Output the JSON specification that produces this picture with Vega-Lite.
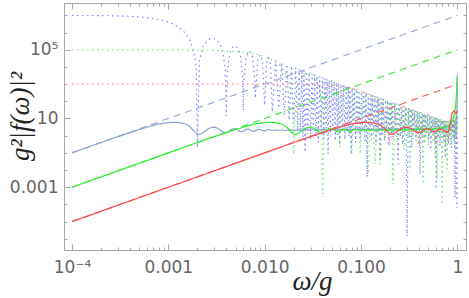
{
"$schema":"https://vega.github.io/schema/vega-lite/v6.json",
"width":402,"height":247,
"autosize":{"type":"none"},
"padding":{"left":64,"top":3,"right":3,"bottom":48},
"background":"white",
"config":{"view":{"stroke":"#a8a8a8","strokeWidth":1},
"axis":{"domainColor":"#a8a8a8","tickColor":"#a8a8a8","labelColor":"#666666","labelFont":"DejaVu Sans","labelFontSize":17,"grid":false,"titleFont":"Liberation Serif","titleFontStyle":"italic","titleFontWeight":"normal","titleColor":"#222222","titleFontSize":27,"labelOverlap":false,"labelFlush":false}},
"data":{"values":[
{"w":0.0001,"v":9.9e6,"s":"f7"},{"w":0.0002,"v":9.7e6,"s":"f7"},{"w":0.0003,"v":9.3e6,"s":"f7"},{"w":0.0004,"v":8.8e6,"s":"f7"},{"w":0.0005,"v":8.1e6,"s":"f7"},{"w":0.0006,"v":7.4e6,"s":"f7"},{"w":0.0007,"v":6.6e6,"s":"f7"},{"w":0.0008,"v":5.7e6,"s":"f7"},{"w":0.0009,"v":4.9e6,"s":"f7"},{"w":0.001,"v":4.05e6,"s":"f7"},{"w":0.0011,"v":3.3e6,"s":"f7"},{"w":0.0012,"v":2.55e6,"s":"f7"},{"w":0.0013,"v":1.9e6,"s":"f7"},{"w":0.0014,"v":1.35e6,"s":"f7"},{"w":0.0015,"v":9e5,"s":"f7"},{"w":0.0016,"v":5.5e5,"s":"f7"},{"w":0.0017,"v":2.9e5,"s":"f7"},{"w":0.0018,"v":1.2e5,"s":"f7"},{"w":0.0019,"v":2.7e4,"s":"f7"},{"w":0.00195,"v":6600,"s":"f7"},{"w":0.002,"v":0.2,"s":"f7"},
{"w":0.0021,"v":2.25e4,"s":"f7"},{"w":0.0023,"v":1.58e5,"s":"f7"},{"w":0.0025,"v":3.2e5,"s":"f7"},{"w":0.0027,"v":4.4e5,"s":"f7"},{"w":0.0029,"v":4.7e5,"s":"f7"},{"w":0.0031,"v":4.1e5,"s":"f7"},{"w":0.0033,"v":2.95e5,"s":"f7"},{"w":0.0035,"v":1.65e5,"s":"f7"},{"w":0.0037,"v":6.1e4,"s":"f7"},{"w":0.0039,"v":6500,"s":"f7"},{"w":0.004,"v":14,"s":"f7"},
{"w":0.0041,"v":5900,"s":"f7"},{"w":0.0043,"v":4.5e4,"s":"f7"},{"w":0.0045,"v":1e5,"s":"f7"},{"w":0.0047,"v":1.46e5,"s":"f7"},{"w":0.005,"v":1.62e5,"s":"f7"},{"w":0.0053,"v":1.15e5,"s":"f7"},{"w":0.0056,"v":4.5e4,"s":"f7"},{"w":0.0059,"v":2800,"s":"f7"},{"w":0.006,"v":30,"s":"f7"},
{"w":0.0061,"v":2650,"s":"f7"},{"w":0.0065,"v":4.8e4,"s":"f7"},{"w":0.007,"v":8.2e4,"s":"f7"},{"w":0.0075,"v":3.6e4,"s":"f7"},{"w":0.0079,"v":1600,"s":"f7"},{"w":0.008,"v":150,"s":"f7"},
{"w":0.0085,"v":2.8e4,"s":"f7"},{"w":0.009,"v":5e4,"s":"f7"},{"w":0.0095,"v":2.2e4,"s":"f7"},{"w":0.01,"v":60,"s":"f7"},{"w":0.0105,"v":1.84e4,"s":"f7"},{"w":0.011,"v":3.35e4,"s":"f7"},{"w":0.0115,"v":1.5e4,"s":"f7"},{"w":0.012,"v":25,"s":"f7"},{"w":0.013,"v":2.4e4,"s":"f7"},{"w":0.014,"v":40,"s":"f7"},{"w":0.015,"v":1.8e4,"s":"f7"},{"w":0.016,"v":15,"s":"f7"},{"w":0.017,"v":1.4e4,"s":"f7"},{"w":0.018,"v":8,"s":"f7"},{"w":0.019,"v":1.12e4,"s":"f7"},{"w":0.02,"v":5,"s":"f7"},
{"w":0.021,"v":9000,"s":"f7"},{"w":0.022,"v":2,"s":"f7"},{"w":0.0228,"v":7500,"s":"f7"},{"w":0.0235,"v":1.5,"s":"f7"},{"w":0.0243,"v":6800,"s":"f7"},{"w":0.025,"v":0.8,"s":"f7"},{"w":0.0256,"v":6000,"s":"f7"},{"w":0.0263,"v":0.11,"s":"f7"},{"w":0.0272,"v":5300,"s":"f7"},{"w":0.028,"v":1.2,"s":"f7"},{"w":0.029,"v":4700,"s":"f7"},{"w":0.03,"v":0.6,"s":"f7"},{"w":0.031,"v":4100,"s":"f7"},{"w":0.032,"v":2.5,"s":"f7"},{"w":0.033,"v":3600,"s":"f7"},{"w":0.034,"v":0.9,"s":"f7"},{"w":0.035,"v":3200,"s":"f7"},{"w":0.036,"v":0.4,"s":"f7"},{"w":0.0372,"v":2850,"s":"f7"},{"w":0.0385,"v":1.8,"s":"f7"},{"w":0.0398,"v":2500,"s":"f7"},{"w":0.041,"v":0.7,"s":"f7"},{"w":0.0422,"v":2200,"s":"f7"},{"w":0.0435,"v":1.5,"s":"f7"},{"w":0.0445,"v":2000,"s":"f7"},{"w":0.0455,"v":0.084,"s":"f7"},{"w":0.0468,"v":1800,"s":"f7"},{"w":0.048,"v":0.9,"s":"f7"},{"w":0.0495,"v":1600,"s":"f7"},{"w":0.051,"v":2.2,"s":"f7"},{"w":0.0525,"v":1430,"s":"f7"},{"w":0.054,"v":0.5,"s":"f7"},{"w":0.0555,"v":1280,"s":"f7"},{"w":0.057,"v":1.1,"s":"f7"},{"w":0.0585,"v":1150,"s":"f7"},{"w":0.06,"v":0.3,"s":"f7"},{"w":0.062,"v":1020,"s":"f7"},{"w":0.064,"v":1.6,"s":"f7"},{"w":0.066,"v":900,"s":"f7"},{"w":0.068,"v":0.6,"s":"f7"},{"w":0.07,"v":800,"s":"f7"},{"w":0.072,"v":2,"s":"f7"},{"w":0.0737,"v":730,"s":"f7"},{"w":0.0755,"v":0.9,"s":"f7"},{"w":0.077,"v":660,"s":"f7"},{"w":0.0789,"v":0.084,"s":"f7"},{"w":0.081,"v":600,"s":"f7"},{"w":0.083,"v":1.2,"s":"f7"},{"w":0.0855,"v":540,"s":"f7"},{"w":0.088,"v":0.4,"s":"f7"},{"w":0.0905,"v":480,"s":"f7"},{"w":0.093,"v":1.5,"s":"f7"},{"w":0.0955,"v":430,"s":"f7"},{"w":0.098,"v":0.7,"s":"f7"},{"w":0.101,"v":385,"s":"f7"},{"w":0.104,"v":2,"s":"f7"},{"w":0.107,"v":345,"s":"f7"},{"w":0.11,"v":0.5,"s":"f7"},{"w":0.113,"v":308,"s":"f7"},{"w":0.1157,"v":0.0039,"s":"f7"},{"w":0.119,"v":278,"s":"f7"},{"w":0.122,"v":1.2,"s":"f7"},{"w":0.1255,"v":250,"s":"f7"},{"w":0.129,"v":0.6,"s":"f7"},{"w":0.1325,"v":224,"s":"f7"},{"w":0.136,"v":1.8,"s":"f7"},{"w":0.1395,"v":202,"s":"f7"},{"w":0.143,"v":0.35,"s":"f7"},{"w":0.1465,"v":183,"s":"f7"},{"w":0.15,"v":1.3,"s":"f7"},{"w":0.154,"v":166,"s":"f7"},{"w":0.158,"v":0.043,"s":"f7"},{"w":0.162,"v":150,"s":"f7"},{"w":0.166,"v":1,"s":"f7"},{"w":0.1705,"v":135,"s":"f7"},{"w":0.175,"v":0.5,"s":"f7"},{"w":0.18,"v":121,"s":"f7"},{"w":0.185,"v":2,"s":"f7"},{"w":0.19,"v":109,"s":"f7"},{"w":0.195,"v":0.25,"s":"f7"},{"w":0.2,"v":98,"s":"f7"},{"w":0.205,"v":1.4,"s":"f7"},{"w":0.2105,"v":88,"s":"f7"},{"w":0.216,"v":0.6,"s":"f7"},{"w":0.222,"v":80,"s":"f7"},{"w":0.228,"v":1.8,"s":"f7"},{"w":0.2355,"v":71,"s":"f7"},{"w":0.243,"v":0.022,"s":"f7"},{"w":0.2495,"v":63,"s":"f7"},{"w":0.256,"v":0.9,"s":"f7"},{"w":0.263,"v":57,"s":"f7"},{"w":0.27,"v":0.3,"s":"f7"},{"w":0.2775,"v":51,"s":"f7"},{"w":0.285,"v":1.5,"s":"f7"},{"w":0.293,"v":46,"s":"f7"},{"w":0.301,"v":1.4e-6,"s":"f7"},{"w":0.3095,"v":41,"s":"f7"},{"w":0.318,"v":0.8,"s":"f7"},{"w":0.3265,"v":37,"s":"f7"},{"w":0.335,"v":0.2,"s":"f7"},{"w":0.344,"v":33,"s":"f7"},{"w":0.353,"v":1.6,"s":"f7"},{"w":0.3625,"v":30,"s":"f7"},{"w":0.372,"v":0.5,"s":"f7"},{"w":0.382,"v":27,"s":"f7"},{"w":0.392,"v":1.1,"s":"f7"},{"w":0.4015,"v":24.5,"s":"f7"},{"w":0.411,"v":0.0058,"s":"f7"},{"w":0.422,"v":22,"s":"f7"},{"w":0.433,"v":0.9,"s":"f7"},{"w":0.4445,"v":20,"s":"f7"},{"w":0.456,"v":0.35,"s":"f7"},{"w":0.468,"v":18,"s":"f7"},{"w":0.48,"v":1.4,"s":"f7"},{"w":0.4925,"v":16.3,"s":"f7"},{"w":0.505,"v":0.6,"s":"f7"},{"w":0.5175,"v":14.8,"s":"f7"},{"w":0.53,"v":0.15,"s":"f7"},{"w":0.545,"v":13.3,"s":"f7"},{"w":0.56,"v":1.2,"s":"f7"},{"w":0.575,"v":12,"s":"f7"},{"w":0.59,"v":0.4,"s":"f7"},{"w":0.5965,"v":11.2,"s":"f7"},{"w":0.603,"v":0.00078,"s":"f7"},{"w":0.616,"v":10.5,"s":"f7"},{"w":0.63,"v":0.8,"s":"f7"},{"w":0.645,"v":9.6,"s":"f7"},{"w":0.66,"v":0.25,"s":"f7"},{"w":0.675,"v":8.8,"s":"f7"},{"w":0.69,"v":1.3,"s":"f7"},{"w":0.705,"v":8.2,"s":"f7"},{"w":0.72,"v":0.5,"s":"f7"},{"w":0.735,"v":7.6,"s":"f7"},{"w":0.75,"v":0.05,"s":"f7"},{"w":0.765,"v":7.2,"s":"f7"},{"w":0.78,"v":0.9,"s":"f7"},{"w":0.795,"v":6.8,"s":"f7"},{"w":0.81,"v":0.3,"s":"f7"},{"w":0.825,"v":6.5,"s":"f7"},{"w":0.84,"v":1.5,"s":"f7"},{"w":0.855,"v":6.5,"s":"f7"},{"w":0.87,"v":0.2,"s":"f7"},{"w":0.885,"v":7,"s":"f7"},{"w":0.9,"v":1,"s":"f7"},{"w":0.912,"v":8,"s":"f7"},{"w":0.925,"v":0.5,"s":"f7"},{"w":0.936,"v":9,"s":"f7"},{"w":0.948,"v":0.00026,"s":"f7"},{"w":0.96,"v":10,"s":"f7"},{"w":0.97,"v":0.8,"s":"f7"},{"w":0.98,"v":12,"s":"f7"},{"w":0.99,"v":0.00006,"s":"f7"},{"w":1.0,"v":14,"s":"f7"},
{"w":0.0001,"v":1e5,"s":"f5"},{"w":0.002,"v":96800,"s":"f5"},{"w":0.004,"v":87600,"s":"f5"},{"w":0.006,"v":73800,"s":"f5"},{"w":0.008,"v":57300,"s":"f5"},{"w":0.01,"v":40500,"s":"f5"},{"w":0.012,"v":25500,"s":"f5"},{"w":0.014,"v":13500,"s":"f5"},{"w":0.016,"v":5470,"s":"f5"},{"w":0.017,"v":2890,"s":"f5"},{"w":0.018,"v":1190,"s":"f5"},{"w":0.019,"v":274,"s":"f5"},{"w":0.0195,"v":66,"s":"f5"},{"w":0.02,"v":0.084,"s":"f5"},{"w":0.021,"v":225,"s":"f5"},{"w":0.022,"v":800,"s":"f5"},{"w":0.024,"v":2430,"s":"f5"},{"w":0.026,"v":3920,"s":"f5"},{"w":0.0285,"v":4710,"s":"f5"},{"w":0.031,"v":4120,"s":"f5"},{"w":0.034,"v":2300,"s":"f5"},{"w":0.037,"v":610,"s":"f5"},{"w":0.039,"v":65,"s":"f5"},{"w":0.04,"v":0.0004,"s":"f5"},{"w":0.042,"v":219,"s":"f5"},{"w":0.045,"v":1000,"s":"f5"},{"w":0.05,"v":1620,"s":"f5"},{"w":0.055,"v":670,"s":"f5"},{"w":0.058,"v":115,"s":"f5"},{"w":0.06,"v":0.21,"s":"f5"},{"w":0.065,"v":480,"s":"f5"},{"w":0.07,"v":827,"s":"f5"},{"w":0.075,"v":360,"s":"f5"},{"w":0.08,"v":0.084,"s":"f5"},{"w":0.085,"v":280,"s":"f5"},{"w":0.09,"v":500,"s":"f5"},{"w":0.095,"v":220,"s":"f5"},{"w":0.098,"v":0.084,"s":"f5"},{"w":0.104,"v":300,"s":"f5"},{"w":0.11,"v":335,"s":"f5"},{"w":0.1185,"v":0.006,"s":"f5"},{"w":0.129,"v":243,"s":"f5"},{"w":0.14,"v":0.022,"s":"f5"},{"w":0.1495,"v":181,"s":"f5"},{"w":0.158,"v":0.022,"s":"f5"},{"w":0.168,"v":143,"s":"f5"},{"w":0.178,"v":0.6,"s":"f5"},{"w":0.188,"v":115,"s":"f5"},{"w":0.198,"v":1.2,"s":"f5"},{"w":0.207,"v":94,"s":"f5"},{"w":0.215,"v":0.0015,"s":"f5"},{"w":0.226,"v":79,"s":"f5"},{"w":0.237,"v":0.4,"s":"f5"},{"w":0.247,"v":66,"s":"f5"},{"w":0.258,"v":1.5,"s":"f5"},{"w":0.268,"v":56,"s":"f5"},{"w":0.28,"v":0.15,"s":"f5"},{"w":0.292,"v":47,"s":"f5"},{"w":0.305,"v":0.8,"s":"f5"},{"w":0.315,"v":40,"s":"f5"},{"w":0.324,"v":0.011,"s":"f5"},{"w":0.335,"v":36,"s":"f5"},{"w":0.347,"v":0.6,"s":"f5"},{"w":0.36,"v":31,"s":"f5"},{"w":0.372,"v":2,"s":"f5"},{"w":0.385,"v":27,"s":"f5"},{"w":0.398,"v":0.3,"s":"f5"},{"w":0.41,"v":24,"s":"f5"},{"w":0.425,"v":1,"s":"f5"},{"w":0.433,"v":21.5,"s":"f5"},{"w":0.441,"v":0.0015,"s":"f5"},{"w":0.455,"v":19.5,"s":"f5"},{"w":0.47,"v":0.7,"s":"f5"},{"w":0.485,"v":17,"s":"f5"},{"w":0.5,"v":0.25,"s":"f5"},{"w":0.515,"v":15.2,"s":"f5"},{"w":0.53,"v":1.2,"s":"f5"},{"w":0.545,"v":13.6,"s":"f5"},{"w":0.56,"v":0.4,"s":"f5"},{"w":0.575,"v":12.2,"s":"f5"},{"w":0.59,"v":0.05,"s":"f5"},{"w":0.605,"v":11,"s":"f5"},{"w":0.617,"v":0.003,"s":"f5"},{"w":0.63,"v":10.2,"s":"f5"},{"w":0.645,"v":0.9,"s":"f5"},{"w":0.66,"v":9.3,"s":"f5"},{"w":0.675,"v":0.6,"s":"f5"},{"w":0.685,"v":8.6,"s":"f5"},{"w":0.695,"v":0.0001,"s":"f5"},{"w":0.71,"v":8,"s":"f5"},{"w":0.725,"v":0.9,"s":"f5"},{"w":0.74,"v":7.6,"s":"f5"},{"w":0.755,"v":0.3,"s":"f5"},{"w":0.77,"v":7.4,"s":"f5"},{"w":0.783,"v":0.011,"s":"f5"},{"w":0.8,"v":7.5,"s":"f5"},{"w":0.815,"v":0.7,"s":"f5"},{"w":0.83,"v":8,"s":"f5"},{"w":0.845,"v":0.3,"s":"f5"},{"w":0.86,"v":9,"s":"f5"},{"w":0.875,"v":1.5,"s":"f5"},{"w":0.89,"v":10,"s":"f5"},{"w":0.905,"v":0.5,"s":"f5"},{"w":0.92,"v":13,"s":"f5"},{"w":0.935,"v":0.2,"s":"f5"},{"w":0.95,"v":18,"s":"f5"},{"w":0.965,"v":1,"s":"f5"},{"w":0.98,"v":30,"s":"f5"},{"w":0.99,"v":2,"s":"f5"},{"w":1.0,"v":60,"s":"f5"},
{"w":0.0001,"v":1000,"s":"f3"},{"w":0.01,"v":992,"s":"f3"},{"w":0.02,"v":968,"s":"f3"},{"w":0.03,"v":929,"s":"f3"},{"w":0.04,"v":876,"s":"f3"},{"w":0.05,"v":810,"s":"f3"},{"w":0.06,"v":738,"s":"f3"},{"w":0.07,"v":656,"s":"f3"},{"w":0.08,"v":573,"s":"f3"},{"w":0.09,"v":488,"s":"f3"},{"w":0.1,"v":405,"s":"f3"},{"w":0.11,"v":327,"s":"f3"},{"w":0.12,"v":255,"s":"f3"},{"w":0.13,"v":190,"s":"f3"},{"w":0.14,"v":135,"s":"f3"},{"w":0.15,"v":90,"s":"f3"},{"w":0.16,"v":55,"s":"f3"},{"w":0.17,"v":29,"s":"f3"},{"w":0.18,"v":12,"s":"f3"},{"w":0.19,"v":2.7,"s":"f3"},{"w":0.195,"v":0.66,"s":"f3"},{"w":0.2,"v":0.5,"s":"f3"},{"w":0.21,"v":2.25,"s":"f3"},{"w":0.22,"v":8,"s":"f3"},{"w":0.24,"v":24,"s":"f3"},{"w":0.26,"v":39,"s":"f3"},{"w":0.285,"v":47,"s":"f3"},{"w":0.31,"v":41,"s":"f3"},{"w":0.34,"v":23,"s":"f3"},{"w":0.37,"v":6.1,"s":"f3"},{"w":0.39,"v":0.65,"s":"f3"},{"w":0.4,"v":0.2,"s":"f3"},{"w":0.42,"v":2.2,"s":"f3"},{"w":0.45,"v":10,"s":"f3"},{"w":0.5,"v":16,"s":"f3"},{"w":0.55,"v":6.7,"s":"f3"},{"w":0.58,"v":1.15,"s":"f3"},{"w":0.6,"v":0.3,"s":"f3"},{"w":0.65,"v":4.8,"s":"f3"},{"w":0.7,"v":8.3,"s":"f3"},{"w":0.75,"v":3.6,"s":"f3"},{"w":0.78,"v":0.8,"s":"f3"},{"w":0.8,"v":0.4,"s":"f3"},{"w":0.85,"v":2.8,"s":"f3"},{"w":0.9,"v":5,"s":"f3"},{"w":0.95,"v":2.2,"s":"f3"},{"w":1.0,"v":0.4,"s":"f3"},
{"w":0.0001,"v":0.1,"s":"a7"},{"w":1.0,"v":1e7,"s":"a7"},
{"w":0.0001,"v":0.001,"s":"a5"},{"w":1.0,"v":1e5,"s":"a5"},
{"w":0.0001,"v":0.00001,"s":"a3"},{"w":1.0,"v":1000,"s":"a3"},
{"w":0.0001,"v":0.1,"s":"s7"},{"w":0.00015,"v":0.225,"s":"s7"},{"w":0.0002,"v":0.4,"s":"s7"},{"w":0.0003,"v":0.88,"s":"s7"},{"w":0.0004,"v":1.5,"s":"s7"},{"w":0.0005,"v":2.3,"s":"s7"},{"w":0.0006,"v":3.1,"s":"s7"},{"w":0.0007,"v":4.0,"s":"s7"},{"w":0.0008,"v":4.8,"s":"s7"},{"w":0.0009,"v":5.4,"s":"s7"},{"w":0.001,"v":5.8,"s":"s7"},{"w":0.0011,"v":6.0,"s":"s7"},{"w":0.0012,"v":6.0,"s":"s7"},{"w":0.0013,"v":5.8,"s":"s7"},{"w":0.0014,"v":5.3,"s":"s7"},{"w":0.0015,"v":4.8,"s":"s7"},{"w":0.0016,"v":4.0,"s":"s7"},{"w":0.0017,"v":3.1,"s":"s7"},{"w":0.0018,"v":2.2,"s":"s7"},{"w":0.0019,"v":1.6,"s":"s7"},{"w":0.002,"v":1.25,"s":"s7"},{"w":0.0021,"v":1.2,"s":"s7"},{"w":0.0022,"v":1.3,"s":"s7"},{"w":0.0024,"v":1.8,"s":"s7"},{"w":0.0026,"v":2.5,"s":"s7"},{"w":0.0028,"v":3.0,"s":"s7"},{"w":0.003,"v":3.1,"s":"s7"},{"w":0.0032,"v":2.8,"s":"s7"},{"w":0.0034,"v":2.3,"s":"s7"},{"w":0.0036,"v":1.8,"s":"s7"},{"w":0.0038,"v":1.5,"s":"s7"},{"w":0.004,"v":1.5,"s":"s7"},{"w":0.0042,"v":1.7,"s":"s7"},{"w":0.0045,"v":2.3,"s":"s7"},{"w":0.0048,"v":2.6,"s":"s7"},{"w":0.0051,"v":2.4,"s":"s7"},{"w":0.0054,"v":1.9,"s":"s7"},{"w":0.0057,"v":1.7,"s":"s7"},{"w":0.006,"v":1.8,"s":"s7"},{"w":0.0064,"v":2.3,"s":"s7"},{"w":0.0068,"v":2.4,"s":"s7"},{"w":0.0072,"v":2.0,"s":"s7"},{"w":0.0076,"v":1.8,"s":"s7"},{"w":0.008,"v":1.9,"s":"s7"},{"w":0.0085,"v":2.3,"s":"s7"},{"w":0.009,"v":2.3,"s":"s7"},{"w":0.0095,"v":2.0,"s":"s7"},{"w":0.01,"v":1.9,"s":"s7"},{"w":0.011,"v":2.3,"s":"s7"},{"w":0.012,"v":2.0,"s":"s7"},{"w":0.013,"v":2.2,"s":"s7"},{"w":0.014,"v":2.0,"s":"s7"},{"w":0.015,"v":2.2,"s":"s7"},{"w":0.016,"v":2.0,"s":"s7"},{"w":0.018,"v":2.15,"s":"s7"},{"w":0.02,"v":2.05,"s":"s7"},{"w":0.025,"v":2.15,"s":"s7"},{"w":0.03,"v":2.15,"s":"s7"},{"w":0.05,"v":2.2,"s":"s7"},{"w":0.1,"v":2.3,"s":"s7"},{"w":0.2,"v":2.4,"s":"s7"},{"w":0.4,"v":2.5,"s":"s7"},{"w":0.6,"v":2.6,"s":"s7"},{"w":0.8,"v":2.8,"s":"s7"},{"w":0.9,"v":3.2,"s":"s7"},{"w":0.95,"v":4,"s":"s7"},{"w":0.97,"v":6,"s":"s7"},{"w":0.98,"v":10,"s":"s7"},{"w":0.99,"v":25,"s":"s7"},{"w":0.995,"v":80,"s":"s7"},{"w":0.998,"v":400,"s":"s7"},{"w":1.0,"v":3500,"s":"s7"},
{"w":0.0001,"v":0.001,"s":"s5"},{"w":0.001,"v":0.1,"s":"s5"},{"w":0.0015,"v":0.225,"s":"s5"},{"w":0.002,"v":0.4,"s":"s5"},{"w":0.003,"v":0.88,"s":"s5"},{"w":0.004,"v":1.5,"s":"s5"},{"w":0.005,"v":2.3,"s":"s5"},{"w":0.006,"v":3.1,"s":"s5"},{"w":0.007,"v":4.0,"s":"s5"},{"w":0.008,"v":4.8,"s":"s5"},{"w":0.009,"v":5.4,"s":"s5"},{"w":0.01,"v":5.8,"s":"s5"},{"w":0.011,"v":6.0,"s":"s5"},{"w":0.012,"v":6.0,"s":"s5"},{"w":0.013,"v":5.8,"s":"s5"},{"w":0.014,"v":5.3,"s":"s5"},{"w":0.015,"v":4.8,"s":"s5"},{"w":0.016,"v":4.0,"s":"s5"},{"w":0.017,"v":3.1,"s":"s5"},{"w":0.018,"v":2.2,"s":"s5"},{"w":0.019,"v":1.6,"s":"s5"},{"w":0.02,"v":1.25,"s":"s5"},{"w":0.021,"v":1.2,"s":"s5"},{"w":0.022,"v":1.3,"s":"s5"},{"w":0.024,"v":1.8,"s":"s5"},{"w":0.026,"v":2.5,"s":"s5"},{"w":0.028,"v":3.0,"s":"s5"},{"w":0.03,"v":3.1,"s":"s5"},{"w":0.032,"v":2.8,"s":"s5"},{"w":0.034,"v":2.3,"s":"s5"},{"w":0.036,"v":1.8,"s":"s5"},{"w":0.038,"v":1.5,"s":"s5"},{"w":0.04,"v":1.5,"s":"s5"},{"w":0.042,"v":1.7,"s":"s5"},{"w":0.045,"v":2.3,"s":"s5"},{"w":0.048,"v":2.6,"s":"s5"},{"w":0.051,"v":2.4,"s":"s5"},{"w":0.054,"v":1.9,"s":"s5"},{"w":0.057,"v":1.7,"s":"s5"},{"w":0.06,"v":1.8,"s":"s5"},{"w":0.064,"v":2.3,"s":"s5"},{"w":0.068,"v":2.4,"s":"s5"},{"w":0.072,"v":2.0,"s":"s5"},{"w":0.076,"v":1.8,"s":"s5"},{"w":0.08,"v":1.9,"s":"s5"},{"w":0.085,"v":2.3,"s":"s5"},{"w":0.09,"v":2.3,"s":"s5"},{"w":0.095,"v":2.0,"s":"s5"},{"w":0.1,"v":1.9,"s":"s5"},{"w":0.11,"v":2.3,"s":"s5"},{"w":0.12,"v":2.0,"s":"s5"},{"w":0.13,"v":2.2,"s":"s5"},{"w":0.14,"v":2.0,"s":"s5"},{"w":0.15,"v":2.2,"s":"s5"},{"w":0.16,"v":2.0,"s":"s5"},{"w":0.18,"v":2.15,"s":"s5"},{"w":0.2,"v":2.1,"s":"s5"},{"w":0.3,"v":2.2,"s":"s5"},{"w":0.4,"v":2.3,"s":"s5"},{"w":0.5,"v":2.4,"s":"s5"},{"w":0.6,"v":2.5,"s":"s5"},{"w":0.7,"v":2.8,"s":"s5"},{"w":0.8,"v":3.5,"s":"s5"},{"w":0.85,"v":4.7,"s":"s5"},{"w":0.9,"v":9,"s":"s5"},{"w":0.93,"v":18,"s":"s5"},{"w":0.95,"v":35,"s":"s5"},{"w":0.97,"v":110,"s":"s5"},{"w":0.98,"v":300,"s":"s5"},{"w":0.99,"v":1200,"s":"s5"},{"w":1.0,"v":2500,"s":"s5"},
{"w":0.0001,"v":0.00001,"s":"s3"},{"w":0.001,"v":0.001,"s":"s3"},{"w":0.01,"v":0.1,"s":"s3"},{"w":0.015,"v":0.225,"s":"s3"},{"w":0.02,"v":0.4,"s":"s3"},{"w":0.03,"v":0.88,"s":"s3"},{"w":0.04,"v":1.5,"s":"s3"},{"w":0.05,"v":2.3,"s":"s3"},{"w":0.06,"v":3.1,"s":"s3"},{"w":0.07,"v":4.0,"s":"s3"},{"w":0.08,"v":4.8,"s":"s3"},{"w":0.09,"v":5.4,"s":"s3"},{"w":0.1,"v":5.8,"s":"s3"},{"w":0.11,"v":6.0,"s":"s3"},{"w":0.12,"v":6.0,"s":"s3"},{"w":0.13,"v":5.8,"s":"s3"},{"w":0.14,"v":5.3,"s":"s3"},{"w":0.15,"v":4.8,"s":"s3"},{"w":0.16,"v":4.0,"s":"s3"},{"w":0.17,"v":3.1,"s":"s3"},{"w":0.18,"v":2.2,"s":"s3"},{"w":0.19,"v":1.6,"s":"s3"},{"w":0.2,"v":1.25,"s":"s3"},{"w":0.21,"v":1.2,"s":"s3"},{"w":0.22,"v":1.3,"s":"s3"},{"w":0.24,"v":1.8,"s":"s3"},{"w":0.26,"v":2.5,"s":"s3"},{"w":0.28,"v":3.0,"s":"s3"},{"w":0.3,"v":3.1,"s":"s3"},{"w":0.32,"v":2.8,"s":"s3"},{"w":0.34,"v":2.3,"s":"s3"},{"w":0.36,"v":1.8,"s":"s3"},{"w":0.38,"v":1.5,"s":"s3"},{"w":0.4,"v":1.5,"s":"s3"},{"w":0.42,"v":1.7,"s":"s3"},{"w":0.45,"v":2.3,"s":"s3"},{"w":0.48,"v":2.6,"s":"s3"},{"w":0.51,"v":2.4,"s":"s3"},{"w":0.54,"v":1.9,"s":"s3"},{"w":0.57,"v":1.7,"s":"s3"},{"w":0.6,"v":1.8,"s":"s3"},{"w":0.64,"v":2.3,"s":"s3"},{"w":0.68,"v":2.4,"s":"s3"},{"w":0.72,"v":2.0,"s":"s3"},{"w":0.76,"v":1.6,"s":"s3"},{"w":0.8,"v":1.5,"s":"s3"},{"w":0.85,"v":6,"s":"s3"},{"w":0.88,"v":20,"s":"s3"},{"w":0.92,"v":28,"s":"s3"},{"w":0.96,"v":20,"s":"s3"},{"w":0.99,"v":22,"s":"s3"},{"w":1.0,"v":28,"s":"s3"}
]},
"layer":[
{"encoding":{
 "x":{"field":"w","type":"quantitative","title":"ω/g","scale":{"type":"log","domain":[0.0000826,1.23],"nice":false},
  "axis":{"orient":"bottom","values":[0.0001,0.0002,0.0003,0.0004,0.0005,0.0006,0.0007,0.0008,0.0009,0.001,0.002,0.003,0.004,0.005,0.006,0.007,0.008,0.009,0.01,0.02,0.03,0.04,0.05,0.06,0.07,0.08,0.09,0.1,0.2,0.3,0.4,0.5,0.6,0.7,0.8,0.9,1],
   "labelExpr":"datum.value==0.0001?'10⁻⁴':datum.value==0.001?'0.001':datum.value==0.01?'0.010':datum.value==0.1?'0.100':datum.value==1?'1':''",
   "tickSize":{"condition":{"test":"datum.value==0.0001||datum.value==0.001||datum.value==0.01||datum.value==0.1||datum.value==1","value":-6},"value":-3},
   "labelPadding":15,"titleX":248,"titleY":39,"titleAlign":"center","titleBaseline":"alphabetic"}},
 "y":{"field":"v","type":"quantitative","title":"g²|f(ω)|²","scale":{"type":"log","domain":[2.22e-7,5.25e7],"nice":false},
  "axis":{"orient":"left","values":[0.000001,0.00001,0.0001,0.001,0.01,0.1,1,10,100,1000,10000,100000,1000000,10000000],
   "labelExpr":"datum.value==100000?'10⁵':datum.value==10?'10':datum.value==0.001?'0.001':''",
   "tickSize":{"condition":{"test":"datum.value==100000||datum.value==10||datum.value==0.001","value":-6},"value":-3},
   "labelPadding":12,"titleX":-36,"titleY":113,"titleAlign":"center","titleBaseline":"alphabetic","titleAngle":-90}},
 "color":{"field":"s","type":"nominal","legend":null,"scale":{"domain":["f7","f5","f3","a7","a5","a3","s7","s5","s3"],"range":["#5a5aff","#44dd44","#ff6a6a","#92a9d2","#33e633","#ff5555","#8ba3cf","#33ee33","#ff4a4a"]}}
 },
 "layer":[
  {"transform":[{"filter":"datum.s=='f7'||datum.s=='f5'||datum.s=='f3'"}],"mark":{"type":"line","strokeDash":[1.5,3.5],"strokeWidth":1.2,"opacity":0.75,"clip":true}},
  {"transform":[{"filter":"datum.s=='a7'||datum.s=='a5'||datum.s=='a3'"}],"mark":{"type":"line","strokeDash":[7,5],"strokeWidth":1.1,"clip":true}},
  {"transform":[{"filter":"datum.s=='s7'||datum.s=='s5'||datum.s=='s3'"}],"mark":{"type":"line","strokeWidth":1.2,"clip":true}}
 ]},
{"transform":[{"filter":"datum.s=='a7'"}],"mark":{"type":"line","opacity":0},
 "encoding":{
 "x":{"field":"w","type":"quantitative","scale":{"type":"log","domain":[0.0000826,1.23],"nice":false},
  "axis":{"orient":"top","title":null,"labels":false,"values":[0.0001,0.0002,0.0003,0.0004,0.0005,0.0006,0.0007,0.0008,0.0009,0.001,0.002,0.003,0.004,0.005,0.006,0.007,0.008,0.009,0.01,0.02,0.03,0.04,0.05,0.06,0.07,0.08,0.09,0.1,0.2,0.3,0.4,0.5,0.6,0.7,0.8,0.9,1],
   "tickSize":{"condition":{"test":"datum.value==0.0001||datum.value==0.001||datum.value==0.01||datum.value==0.1||datum.value==1","value":-6},"value":-3}}},
 "y":{"field":"v","type":"quantitative","scale":{"type":"log","domain":[2.22e-7,5.25e7],"nice":false},
  "axis":{"orient":"right","title":null,"labels":false,"values":[0.000001,0.00001,0.0001,0.001,0.01,0.1,1,10,100,1000,10000,100000,1000000,10000000],"tickSize":-3}}
 }}
],
"resolve":{"axis":{"x":"independent","y":"independent"}}
}
